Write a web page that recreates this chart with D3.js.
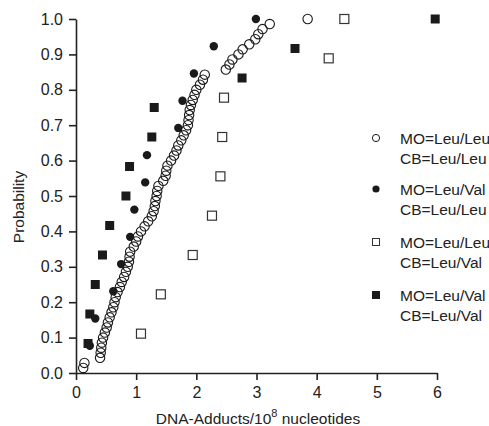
<!DOCTYPE html>
<html>
<head>
<meta charset="utf-8">
<script src="https://cdn.jsdelivr.net/npm/d3@7"></script>
<style>
  body { margin: 0; background: #fff; }
  text { font-family: "Liberation Sans", Arial, sans-serif; fill: #222; }
</style>
</head>
<body>
<div id="chart"></div>
<script>
// x values (DNA adducts / 10^8 nucleotides), sorted; probability = rank / n
var leuLeuLeuLeu = [0.12, 0.14, 0.40, 0.41, 0.42, 0.43, 0.45, 0.48, 0.51, 0.53,
  0.56, 0.59, 0.62, 0.64, 0.66, 0.69, 0.73, 0.76, 0.80, 0.83,
  0.86, 0.88, 0.89, 0.90, 0.96, 1.00, 1.03, 1.08, 1.14, 1.20,
  1.26, 1.29, 1.31, 1.32, 1.34, 1.35, 1.37, 1.45, 1.49, 1.50,
  1.52, 1.58, 1.63, 1.67, 1.70, 1.75, 1.79, 1.83, 1.86, 1.87,
  1.88, 1.89, 1.91, 1.94, 1.97, 2.00, 2.06, 2.11, 2.14, 2.49,
  2.55, 2.60, 2.70, 2.77, 2.88, 2.98, 3.03, 3.10, 3.22, 3.85];
var leuValLeuLeu = [0.23, 0.32, 0.62, 0.75, 0.90, 0.97, 1.15, 1.18, 1.70, 1.77, 1.96, 2.29, 2.99];
var leuLeuLeuVal = [1.08, 1.41, 1.94, 2.26, 2.40, 2.43, 2.46, 4.20, 4.46];
var leuValLeuVal = [0.20, 0.23, 0.32, 0.44, 0.56, 0.83, 0.89, 1.26, 1.30, 2.76, 3.64, 5.97];

var xTicks = [0, 1, 2, 3, 4, 5, 6];
var yTicks = [0, 0.1, 0.2, 0.3, 0.4, 0.5, 0.6, 0.7, 0.8, 0.9, 1.0];

var legendLabels = [
  ['MO=Leu/Leu', 'CB=Leu/Leu'],
  ['MO=Leu/Val', 'CB=Leu/Leu'],
  ['MO=Leu/Leu', 'CB=Leu/Val'],
  ['MO=Leu/Val', 'CB=Leu/Val']
];

var width = 489, height = 426;
var margin = {top: 19, right: 52, bottom: 53, left: 76};
var chartWidth = width - margin.left - margin.right;
var chartHeight = height - margin.top - margin.bottom;

var svg = d3.select('#chart').append('svg')
  .attr('width', width)
  .attr('height', height);

var g = svg.append('g')
  .attr('transform', `translate(${margin.left}, ${margin.top})`);

var xScale = d3.scaleLinear().domain([0, 6]).range([0, chartWidth]);
var yScale = d3.scaleLinear().domain([0, 1]).range([chartHeight, 0]);

var xAxis = d3.axisBottom(xScale).tickValues(xTicks).tickSize(7).tickPadding(7).tickFormat(d3.format('d'));
var yAxis = d3.axisLeft(yScale).tickValues(yTicks).tickSize(7).tickPadding(6).tickFormat(d3.format('.1f'));

function styleAxis(sel) {
  sel.select('.domain').attr('stroke', '#222').attr('stroke-width', 1.6);
  sel.selectAll('.tick line').attr('stroke', '#222').attr('stroke-width', 1.6);
  sel.selectAll('.tick text').attr('font-size', 16).attr('fill', '#222')
    .attr('font-family', '"Liberation Sans", Arial, sans-serif');
}

g.append('g')
  .attr('transform', `translate(0, ${chartHeight})`)
  .call(xAxis.tickSizeOuter(0))
  .call(styleAxis);

g.append('g')
  .call(yAxis.tickSizeOuter(0))
  .call(styleAxis);

// axis titles
var xTitle = svg.append('text')
  .attr('x', 258)
  .attr('y', 424)
  .attr('text-anchor', 'middle')
  .attr('font-size', 15.5);
xTitle.append('tspan').text('DNA-Adducts/10');
xTitle.append('tspan').attr('font-size', 11).attr('dy', -7).text('8');
xTitle.append('tspan').attr('dy', 7).text(' nucleotides');

svg.append('text')
  .attr('transform', `translate(24, 207) rotate(-90)`)
  .attr('text-anchor', 'middle')
  .attr('font-size', 15.5)
  .text('Probability');

// markers
function ecdf(values) {
  return values.map((v, i) => ({x: v, p: (i + 1) / values.length}));
}

var ink = '#1a1a1a';

function drawCircles(data, r, filled) {
  g.append('g').selectAll('circle')
    .data(ecdf(data))
    .enter()
    .append('circle')
    .attr('cx', d => xScale(d.x))
    .attr('cy', d => yScale(d.p))
    .attr('r', r)
    .attr('fill', filled ? ink : 'none')
    .attr('stroke', ink)
    .attr('stroke-width', filled ? 0 : 1.1);
}

function drawSquares(data, s, filled) {
  g.append('g').selectAll('rect')
    .data(ecdf(data))
    .enter()
    .append('rect')
    .attr('x', d => xScale(d.x) - s / 2)
    .attr('y', d => yScale(d.p) - s / 2)
    .attr('width', s)
    .attr('height', s)
    .attr('fill', filled ? ink : '#fff')
    .attr('stroke', filled ? 'none' : '#333')
    .attr('stroke-width', 1.2);
}

drawSquares(leuLeuLeuVal, 9, false);
drawCircles(leuLeuLeuLeu, 4.7, false);
drawSquares(leuValLeuVal, 9, true);
drawCircles(leuValLeuLeu, 4.2, true);

// legend
var legend = svg.append('g').attr('transform', 'translate(376, 0)');
var rowY = [138, 189, 242, 295];
legendLabels.forEach(function(lines, i) {
  var y = rowY[i];
  if (i === 0) {
    legend.append('circle').attr('cx', 0).attr('cy', y).attr('r', 3.6)
      .attr('fill', 'none').attr('stroke', ink).attr('stroke-width', 1);
  } else if (i === 1) {
    legend.append('circle').attr('cx', 0).attr('cy', y).attr('r', 3.6).attr('fill', ink);
  } else if (i === 2) {
    legend.append('rect').attr('x', -3.5).attr('y', y - 3.5).attr('width', 7).attr('height', 7)
      .attr('fill', 'none').attr('stroke', '#333').attr('stroke-width', 1);
  } else {
    legend.append('rect').attr('x', -4).attr('y', y - 4).attr('width', 8).attr('height', 8).attr('fill', ink);
  }
  lines.forEach(function(t, j) {
    legend.append('text')
      .attr('x', 24)
      .attr('y', y + 5.5 + j * 20.5)
      .attr('font-size', 15.5)
      .text(t);
  });
});
</script>
</body>
</html>
